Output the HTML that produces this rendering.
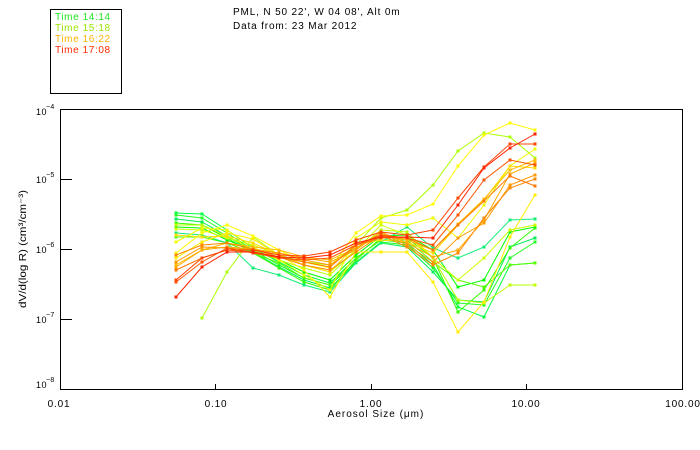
<!DOCTYPE html>
<html><head><meta charset="utf-8"><style>
html,body{margin:0;padding:0;background:#fff;}
svg{display:block;font-family:"Liberation Sans",sans-serif;}
text{font-size:10px;letter-spacing:0.8px;}
</style></head><body>
<svg width="700" height="450" viewBox="0 0 700 450" xmlns="http://www.w3.org/2000/svg">
<defs>
<marker id="mG1" markerUnits="userSpaceOnUse" markerWidth="4" markerHeight="4" refX="1.5" refY="1.5"><rect width="3" height="3" fill="#00ff40"/></marker>
<marker id="mG2" markerUnits="userSpaceOnUse" markerWidth="4" markerHeight="4" refX="1.5" refY="1.5"><rect width="3" height="3" fill="#22ff22"/></marker>
<marker id="mG3" markerUnits="userSpaceOnUse" markerWidth="4" markerHeight="4" refX="1.5" refY="1.5"><rect width="3" height="3" fill="#00ee55"/></marker>
<marker id="mG4" markerUnits="userSpaceOnUse" markerWidth="4" markerHeight="4" refX="1.5" refY="1.5"><rect width="3" height="3" fill="#33ff00"/></marker>
<marker id="mG5" markerUnits="userSpaceOnUse" markerWidth="4" markerHeight="4" refX="1.5" refY="1.5"><rect width="3" height="3" fill="#00ff00"/></marker>
<marker id="mG6" markerUnits="userSpaceOnUse" markerWidth="4" markerHeight="4" refX="1.5" refY="1.5"><rect width="3" height="3" fill="#55ff00"/></marker>
<marker id="mG7" markerUnits="userSpaceOnUse" markerWidth="4" markerHeight="4" refX="1.5" refY="1.5"><rect width="3" height="3" fill="#11ee77"/></marker>
<marker id="mYG1" markerUnits="userSpaceOnUse" markerWidth="4" markerHeight="4" refX="1.5" refY="1.5"><rect width="3" height="3" fill="#aaff00"/></marker>
<marker id="mYG2" markerUnits="userSpaceOnUse" markerWidth="4" markerHeight="4" refX="1.5" refY="1.5"><rect width="3" height="3" fill="#bbff00"/></marker>
<marker id="mYG3" markerUnits="userSpaceOnUse" markerWidth="4" markerHeight="4" refX="1.5" refY="1.5"><rect width="3" height="3" fill="#ccff00"/></marker>
<marker id="mY1" markerUnits="userSpaceOnUse" markerWidth="4" markerHeight="4" refX="1.5" refY="1.5"><rect width="3" height="3" fill="#ffff00"/></marker>
<marker id="mY2" markerUnits="userSpaceOnUse" markerWidth="4" markerHeight="4" refX="1.5" refY="1.5"><rect width="3" height="3" fill="#ffee00"/></marker>
<marker id="mY3" markerUnits="userSpaceOnUse" markerWidth="4" markerHeight="4" refX="1.5" refY="1.5"><rect width="3" height="3" fill="#eeff00"/></marker>
<marker id="mY4" markerUnits="userSpaceOnUse" markerWidth="4" markerHeight="4" refX="1.5" refY="1.5"><rect width="3" height="3" fill="#ffdd00"/></marker>
<marker id="mO1" markerUnits="userSpaceOnUse" markerWidth="4" markerHeight="4" refX="1.5" refY="1.5"><rect width="3" height="3" fill="#ffbb00"/></marker>
<marker id="mO2" markerUnits="userSpaceOnUse" markerWidth="4" markerHeight="4" refX="1.5" refY="1.5"><rect width="3" height="3" fill="#ffaa00"/></marker>
<marker id="mO3" markerUnits="userSpaceOnUse" markerWidth="4" markerHeight="4" refX="1.5" refY="1.5"><rect width="3" height="3" fill="#ff9900"/></marker>
<marker id="mO4" markerUnits="userSpaceOnUse" markerWidth="4" markerHeight="4" refX="1.5" refY="1.5"><rect width="3" height="3" fill="#ff8800"/></marker>
<marker id="mO5" markerUnits="userSpaceOnUse" markerWidth="4" markerHeight="4" refX="1.5" refY="1.5"><rect width="3" height="3" fill="#ff7700"/></marker>
<marker id="mR1" markerUnits="userSpaceOnUse" markerWidth="4" markerHeight="4" refX="1.5" refY="1.5"><rect width="3" height="3" fill="#ff4400"/></marker>
<marker id="mR2" markerUnits="userSpaceOnUse" markerWidth="4" markerHeight="4" refX="1.5" refY="1.5"><rect width="3" height="3" fill="#ff2200"/></marker>
<marker id="mR3" markerUnits="userSpaceOnUse" markerWidth="4" markerHeight="4" refX="1.5" refY="1.5"><rect width="3" height="3" fill="#ff5500"/></marker>
</defs>

<!-- legend box -->
<rect x="50.5" y="9.5" width="71" height="84" fill="none" stroke="#000" stroke-width="1"/>
<text x="55" y="20" fill="#22e622" style="letter-spacing:0.6px">Time 14:14</text>
<text x="55" y="31" fill="#99e600" style="letter-spacing:0.6px">Time 15:18</text>
<text x="55" y="42" fill="#ffb400" style="letter-spacing:0.6px">Time 16:22</text>
<text x="55" y="53" fill="#ff2a00" style="letter-spacing:0.6px">Time 17:08</text>

<!-- title -->
<text x="233" y="15" fill="#000" style="letter-spacing:0.85px">PML, N 50 22', W 04 08', Alt 0m</text>
<text x="233" y="29" fill="#000" style="letter-spacing:0.85px">Data from: 23 Mar 2012</text>

<!-- series -->
<g fill="none" stroke-width="1">
<polyline stroke="#00ff40" marker-start="url(#mG1)" marker-mid="url(#mG1)" marker-end="url(#mG1)" points="176,213 202,214 227,230 253,248 279,262 304,275 330,283 356,258 381,240 407,243 433,265 458,307 484,317 510,265 535,263"/>
<polyline stroke="#22ff22" marker-start="url(#mG2)" marker-mid="url(#mG2)" marker-end="url(#mG2)" points="176,215 202,218 227,233 253,250 279,265 304,278 330,285 356,262 381,242 407,245 433,268 458,303 484,305 510,258 535,242"/>
<polyline stroke="#00ee55" marker-start="url(#mG3)" marker-mid="url(#mG3)" marker-end="url(#mG3)" points="176,219 202,222 227,236 253,252 279,267 304,280 330,288 356,263 381,243 407,247 433,272 458,300 484,302 510,247 535,238"/>
<polyline stroke="#33ff00" marker-start="url(#mG4)" marker-mid="url(#mG4)" marker-end="url(#mG4)" points="176,223 202,225 227,238 253,253 279,268 304,282 330,290 356,260 381,238 407,238 433,258 458,312 484,290 510,248 535,228"/>
<polyline stroke="#00ff00" marker-start="url(#mG5)" marker-mid="url(#mG5)" marker-end="url(#mG5)" points="176,227 202,228 227,240 253,250 279,260 304,272 330,280 356,255 381,236 407,235 433,250 458,287 484,280 510,232 535,227"/>
<polyline stroke="#55ff00" marker-start="url(#mG6)" marker-mid="url(#mG6)" marker-end="url(#mG6)" points="176,237 202,237 227,243 253,253 279,263 304,278 330,285 356,258 381,240 407,240 433,262 458,280 484,287 510,265 535,263"/>
<polyline stroke="#11ee77" marker-start="url(#mG7)" marker-mid="url(#mG7)" marker-end="url(#mG7)" points="176,233 202,235 227,243 253,268 279,275 304,285 330,292 356,263 381,242 407,227 433,248 458,258 484,247 510,220 535,219"/>
<polyline stroke="#aaff00" marker-start="url(#mYG1)" marker-mid="url(#mYG1)" marker-end="url(#mYG1)" points="202,318 227,272 253,237 279,255 304,262 330,265 356,245 381,218 407,210 433,185 458,151 484,133 510,137 535,158"/>
<polyline stroke="#bbff00" marker-start="url(#mYG2)" marker-mid="url(#mYG2)" marker-end="url(#mYG2)" points="176,225 202,225 227,236 253,250 279,260 304,268 330,275 356,250 381,230 407,232 433,258 458,300 484,303 510,285 535,285"/>
<polyline stroke="#ccff00" marker-start="url(#mYG3)" marker-mid="url(#mYG3)" marker-end="url(#mYG3)" points="176,229 202,230 227,238 253,245 279,255 304,265 330,272 356,250 381,225 407,235 433,258 458,280 484,258 510,230 535,225"/>
<polyline stroke="#ffff00" marker-start="url(#mY1)" marker-mid="url(#mY1)" marker-end="url(#mY1)" points="176,253 202,233 227,225 253,236 279,250 304,262 330,268 356,233 381,216 407,215 433,204 458,166 484,135 510,123 535,130"/>
<polyline stroke="#ffee00" marker-start="url(#mY2)" marker-mid="url(#mY2)" marker-end="url(#mY2)" points="176,258 202,242 227,233 253,239 279,255 304,270 330,297 356,252 381,252 407,252 433,282 458,332 484,302 510,237 535,195"/>
<polyline stroke="#eeff00" marker-start="url(#mY3)" marker-mid="url(#mY3)" marker-end="url(#mY3)" points="176,242 202,228 227,230 253,247 279,260 304,275 330,290 356,238 381,222 407,225 433,218 458,238 484,205 510,166 535,149"/>
<polyline stroke="#ffdd00" marker-start="url(#mY4)" marker-mid="url(#mY4)" marker-end="url(#mY4)" points="176,235 202,237 227,236 253,243 279,255 304,265 330,272 356,245 381,240 407,242 433,253 458,225 484,200 510,166 535,168"/>
<polyline stroke="#ffbb00" marker-start="url(#mO1)" marker-mid="url(#mO1)" marker-end="url(#mO1)" points="176,265 202,250 227,243 253,247 279,250 304,257 330,260 356,248 381,235 407,240 433,250 458,224 484,199 510,170 535,160"/>
<polyline stroke="#ffaa00" marker-start="url(#mO2)" marker-mid="url(#mO2)" marker-end="url(#mO2)" points="176,267 202,250 227,247 253,249 279,253 304,258 330,262 356,250 381,232 407,243 433,257 458,250 484,220 510,174 535,163"/>
<polyline stroke="#ff9900" marker-start="url(#mO3)" marker-mid="url(#mO3)" marker-end="url(#mO3)" points="176,262 202,247 227,248 253,250 279,253 304,260 330,265 356,248 381,233 407,245 433,262 458,238 484,223 510,185 535,175"/>
<polyline stroke="#ff8800" marker-start="url(#mO4)" marker-mid="url(#mO4)" marker-end="url(#mO4)" points="176,255 202,245 227,243 253,249 279,257 304,265 330,270 356,252 381,235 407,247 433,265 458,253 484,218 510,188 535,179"/>
<polyline stroke="#ff7700" marker-start="url(#mO5)" marker-mid="url(#mO5)" marker-end="url(#mO5)" points="176,270 202,258 227,250 253,252 279,257 304,262 330,267 356,245 381,238 407,238 433,250 458,225 484,201 510,176 535,186"/>
<polyline stroke="#ff5500" marker-start="url(#mR3)" marker-mid="url(#mR3)" marker-end="url(#mR3)" points="176,282 202,262 227,248 253,253 279,258 304,260 330,258 356,245 381,235 407,238 433,245 458,215 484,180 510,160 535,165"/>
<polyline stroke="#ff4400" marker-start="url(#mR1)" marker-mid="url(#mR1)" marker-end="url(#mR1)" points="176,280 202,258 227,250 253,250 279,255 304,256 330,252 356,240 381,232 407,235 433,230 458,198 484,167 510,144 535,144"/>
<polyline stroke="#ff2200" marker-start="url(#mR2)" marker-mid="url(#mR2)" marker-end="url(#mR2)" points="176,297 202,267 227,252 253,252 279,257 304,258 330,255 356,243 381,237 407,237 433,238 458,205 484,168 510,148 535,134"/>
</g>

<!-- axes -->
<g stroke="#000" stroke-width="1" fill="none" shape-rendering="crispEdges">
<rect x="60.5" y="109.5" width="622" height="280"/>
<line x1="60.5" y1="179.5" x2="72" y2="179.5"/>
<line x1="60.5" y1="249.5" x2="72" y2="249.5"/>
<line x1="60.5" y1="319.5" x2="72" y2="319.5"/>
<line x1="215.5" y1="389" x2="215.5" y2="384"/>
<line x1="371.5" y1="389" x2="371.5" y2="384"/>
<line x1="526.5" y1="389" x2="526.5" y2="384"/>
</g>

<!-- y tick labels -->
<g fill="#000">
<text x="36" y="115" style="font-size:9px;letter-spacing:0.5px">10</text><text x="46" y="109" style="font-size:7px;letter-spacing:0.3px">−4</text>
<text x="36" y="183" style="font-size:9px;letter-spacing:0.5px">10</text><text x="46" y="177" style="font-size:7px;letter-spacing:0.3px">−5</text>
<text x="36" y="253" style="font-size:9px;letter-spacing:0.5px">10</text><text x="46" y="247" style="font-size:7px;letter-spacing:0.3px">−6</text>
<text x="36" y="323" style="font-size:9px;letter-spacing:0.5px">10</text><text x="46" y="317" style="font-size:7px;letter-spacing:0.3px">−7</text>
<text x="36" y="388" style="font-size:9px;letter-spacing:0.5px">10</text><text x="46" y="382" style="font-size:7px;letter-spacing:0.3px">−8</text>
</g>

<!-- x tick labels -->
<g fill="#000" text-anchor="middle" style="letter-spacing:0.3px">
<text x="59" y="407">0.01</text>
<text x="216" y="407">0.10</text>
<text x="371" y="407">1.00</text>
<text x="526" y="407">10.00</text>
<text x="683" y="407">100.00</text>
<text x="376" y="417" style="letter-spacing:1px">Aerosol Size (μm)</text>
</g>

<!-- y title -->
<text transform="translate(26,249) rotate(-90)" text-anchor="middle" fill="#000" textLength="118" lengthAdjust="spacingAndGlyphs" style="letter-spacing:0">dV/d(log R)  (cm³/cm⁻³)</text>
</svg>
</body></html>
